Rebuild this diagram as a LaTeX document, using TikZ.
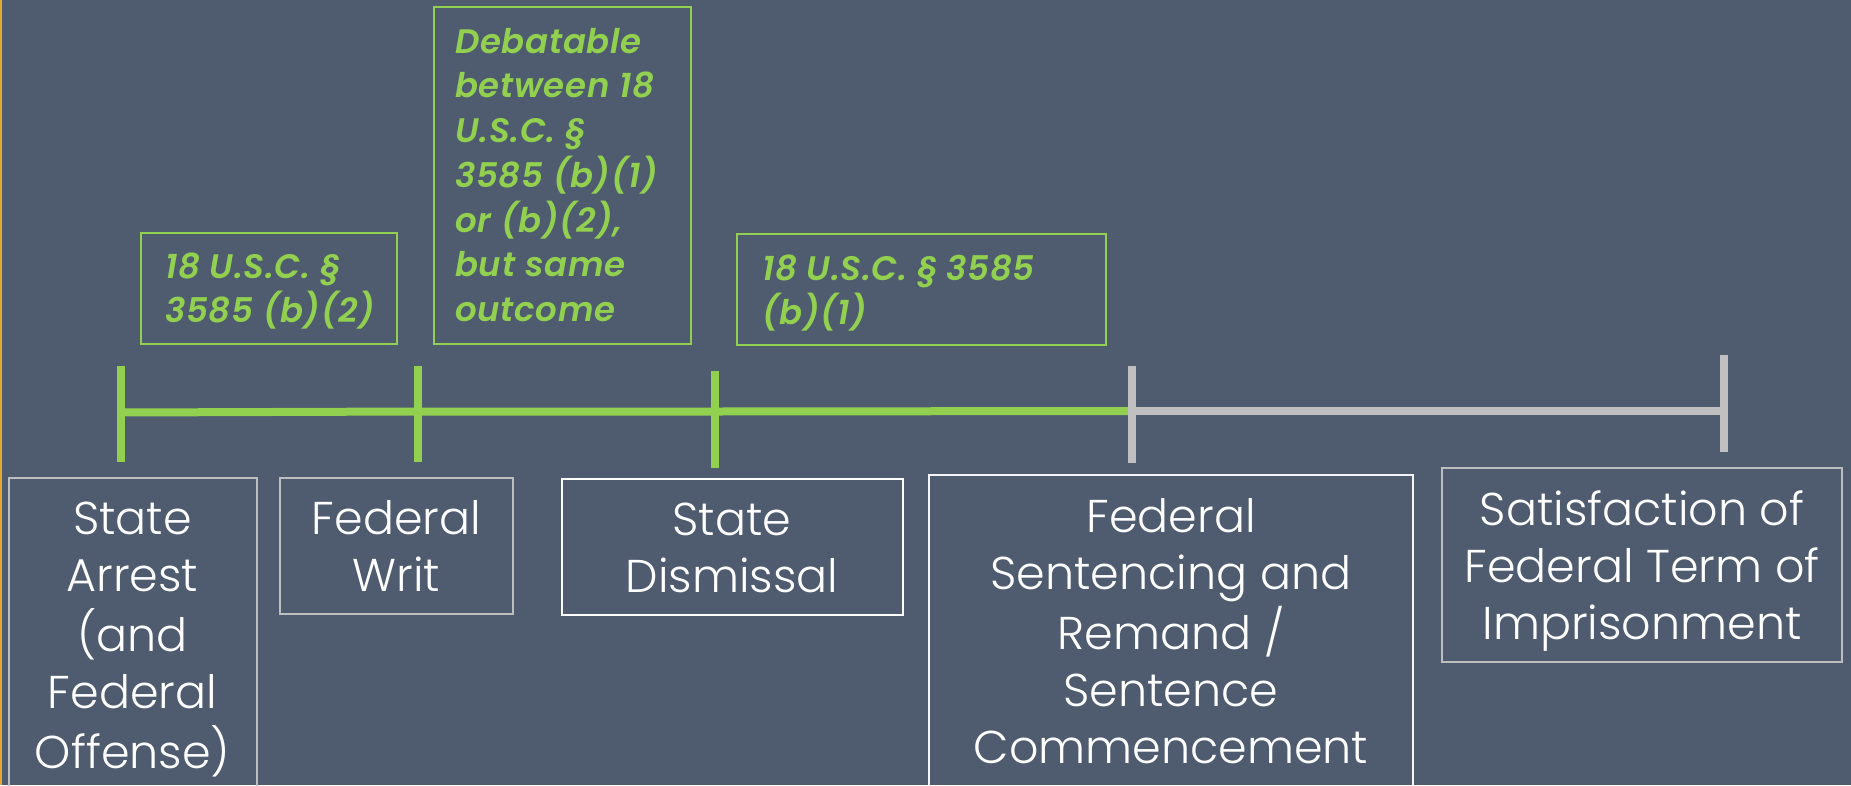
\documentclass[tikz,border=0pt]{standalone}
\usepackage{fontspec}
\setmainfont{Poppins}
\newfontfamily\stagefont{Poppins Light}
\newfontfamily\notefont{Poppins SemiBold Italic}[LetterSpace=2]
\usetikzlibrary{fit}
\definecolor{slate}{RGB}{79,91,111}
\definecolor{lime}{RGB}{146,208,80}
\definecolor{railgray}{RGB}{192,192,192}
\definecolor{edgegray}{RGB}{190,190,190}
\definecolor{amber}{RGB}{228,168,52}
\newcommand\linesC[1]{\begin{tabular}[t]{@{}c@{}}#1\end{tabular}}
\newcommand\linesL[1]{\begin{tabular}[t]{@{}l@{}}#1\end{tabular}}
\begin{document}
\begin{tikzpicture}[x=1pt,y=-1pt,
  stagebox/.style={draw=edgegray, line width=2pt, inner sep=0pt},
  notebox/.style={draw=lime, line width=2pt, inner sep=0pt},
  stagetext/.style={anchor=base, inner sep=0pt, text=white,
    font=\stagefont\fontsize{46}{57}\selectfont},
  notetext/.style={anchor=base west, inner sep=0pt, text=lime,
    font=\notefont\fontsize{34}{44.6}\selectfont},
  tickmark/.style={line width=8pt},
  railline/.style={line width=8pt}]
% canvas
\fill[slate] (0,0) rectangle (1851,785);
\useasboundingbox (0,0) rectangle (1851,785);
\draw[amber, line width=2pt] (1,0) -- (1,785);

% statute notes above the timeline
\node[notebox, fit={(140.6,233.3) (396.9,343.7)}] (noteB2) {};
\node[notetext] (noteB2txt) at (165,278) {\linesL{18 U.S.C. §\\3585 (b)(2)}};
\node[notebox, fit={(433.5,7) (690.6,343.7)}] (noteDeb) {};
\node[notetext] (noteDebtxt) at (455,53.3) {\linesL{Debatable\\between 18\\U.S.C. §\\3585 (b)(1)\\or (b)(2),\\but same\\outcome}};
\node[notebox, fit={(736.7,234.3) (1105.9,345)}] (noteB1) {};
\node[notetext] (noteB1txt) at (762,280) {\linesL{18 U.S.C. § 3585\\(b)(1)}};

% timeline points
\coordinate (t1) at (121,412.5);
\coordinate (t2) at (418,411.5);
\coordinate (t3) at (715,411.5);
\coordinate (t4) at (1131.5,411);
\coordinate (t5) at (1724,411);
\coordinate (t1a) at (121,366);   \coordinate (t1b) at (121,462);
\coordinate (t2a) at (418,366);   \coordinate (t2b) at (418,462);
\coordinate (t3a) at (715,371);   \coordinate (t3b) at (715,468);
\coordinate (t4a) at (1131.5,366);\coordinate (t4b) at (1131.5,463);
\coordinate (t5a) at (1724,355);  \coordinate (t5b) at (1724,452);

\draw[railline, lime] (t1) -- (t2) -- (t3) -- (t4);
\draw[railline, railgray] (t4) -- (t5);
\draw[tickmark, lime] (t1a) -- (t1b);
\draw[tickmark, lime] (t2a) -- (t2b);
\draw[tickmark, lime] (t3a) -- (t3b);
\draw[tickmark, railgray] (t4a) -- (t4b);
\draw[tickmark, railgray] (t5a) -- (t5b);

% stages below the timeline
\node[stagebox, fit={(8.9,477.7) (256.8,800)}] (arrest) {};
\node[stagetext] (arresttxt) at (132.5,534) {\linesC{State\\Arrest\\(and\\Federal\\Offense)}};
\node[stagebox, fit={(280,478.3) (513,614.3)}] (writ) {};
\node[stagetext] (writtxt) at (396.5,534) {\linesC{Federal\\Writ}};
\node[stagebox, draw=white, fit={(561.6,479) (902.6,615.3)}] (dismissal) {};
\node[stagetext] (dismissaltxt) at (732,535) {\linesC{State\\Dismissal}};
\node[stagebox, draw=white!92!gray, fit={(929,475) (1412.5,800)}] (sentencing) {};
\node[stagetext] (sentencingtxt) at (1171,532) {\linesC{Federal\\Sentencing and\\Remand /\\Sentence\\Commencement}};
\node[stagebox, fit={(1441.6,468.3) (1842,661.7)}] (satisfaction) {};
\node[stagetext] (satisfactiontxt) at (1642,525) {\linesC{Satisfaction of\\Federal Term of\\Imprisonment}};
\end{tikzpicture}
\end{document}
